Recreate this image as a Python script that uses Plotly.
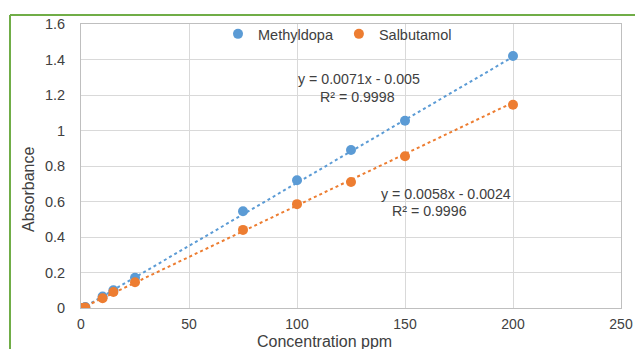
import plotly.graph_objects as go
import numpy as np

conc = [0, 2, 10, 15, 25, 75, 100, 125, 150, 200]
methyldopa = [0.0, 0.005, 0.065, 0.10, 0.17, 0.545, 0.72, 0.89, 1.055, 1.42]
salbutamol = [0.0, 0.003, 0.055, 0.09, 0.145, 0.44, 0.585, 0.71, 0.855, 1.145]
methyl_fit = (0.0071, -0.005)
salb_fit = (0.0058, -0.0024)
x_ticks = [0, 50, 100, 150, 200, 250]
y_ticks = [0, 0.2, 0.4, 0.6, 0.8, 1, 1.2, 1.4, 1.6]
y_tick_text = ["0", "0.2", "0.4", "0.6", "0.8", "1", "1.2", "1.4", "1.6"]

BLUE = "#5B9BD5"
ORANGE = "#ED7D31"
FONT = "Liberation Sans"
TXT = "#404040"

fig = go.Figure()
xl = np.array([min(conc), max(conc)], dtype=float)
fig.add_trace(go.Scatter(x=xl, y=methyl_fit[0] * xl + methyl_fit[1], mode="lines",
                         line=dict(color=BLUE, width=2, dash="dot"), showlegend=False, hoverinfo="skip"))
fig.add_trace(go.Scatter(x=xl, y=salb_fit[0] * xl + salb_fit[1], mode="lines",
                         line=dict(color=ORANGE, width=2, dash="dot"), showlegend=False, hoverinfo="skip"))
fig.add_trace(go.Scatter(x=conc, y=methyldopa, mode="markers", name="Methyldopa",
                         marker=dict(color=BLUE, size=10)))
fig.add_trace(go.Scatter(x=conc, y=salbutamol, mode="markers", name="Salbutamol",
                         marker=dict(color=ORANGE, size=10)))

fig.update_layout(
    width=635, height=349,
    margin=dict(l=81, r=14, t=24, b=41, autoexpand=False),
    paper_bgcolor="white", plot_bgcolor="white",
    font=dict(family=FONT, size=14, color=TXT),
    legend=dict(orientation="h", x=0.475, xanchor="center", y=0.965, yanchor="middle",
                bgcolor="rgba(0,0,0,0)", font=dict(size=14.5, color=TXT),
                itemwidth=30, tracegroupgap=0),
    xaxis=dict(range=[0, 250], tickvals=x_ticks, showgrid=True, gridcolor="#d9d9d9", gridwidth=1,
               zeroline=False, showline=True, linecolor="#bfbfbf", mirror=True, automargin=False,
               ticks="", ticklabelstandoff=3, tickfont=dict(size=14, color=TXT)),
    yaxis=dict(range=[0, 1.6], tickvals=y_ticks, ticktext=y_tick_text, showgrid=True,
               gridcolor="#d9d9d9", gridwidth=1, zeroline=False, showline=True, automargin=False,
               linecolor="#bfbfbf", mirror=True, ticks="", ticklabelstandoff=12,
               tickfont=dict(size=14.5, color=TXT)),
    showlegend=True,
)

annots = [
    dict(x=(359 - 81) / 540, y=(308 - 79) / 284, text="y = 0.0071x - 0.005"),
    dict(x=(357 - 81) / 540, y=(308 - 97) / 284, text="R² = 0.9998"),
    dict(x=(446 - 81) / 540, y=(308 - 194) / 284, text="y = 0.0058x - 0.0024"),
    dict(x=(429 - 81) / 540, y=(308 - 211) / 284, text="R² = 0.9996"),
]
for a in annots:
    fig.add_annotation(xref="paper", yref="paper", x=a["x"], y=a["y"], text=a["text"],
                       showarrow=False, xanchor="center", yanchor="middle",
                       font=dict(family=FONT, size=14.2, color=TXT))

fig.add_annotation(xref="paper", yref="paper", x=(324 - 81) / 540, y=(308 - 341) / 284,
                   text="Concentration ppm", showarrow=False, xanchor="center", yanchor="middle",
                   font=dict(family=FONT, size=16, color=TXT))
fig.add_annotation(xref="paper", yref="paper", x=(28 - 81) / 540, y=(308 - 190) / 284,
                   text="Absorbance", textangle=-90, showarrow=False, xanchor="center",
                   yanchor="middle", font=dict(family=FONT, size=16, color=TXT))

# green frame (top and left edges)
fig.add_shape(type="line", xref="paper", yref="paper", x0=(10 - 81) / 540, x1=(640 - 81) / 540,
              y0=(308 - 15) / 284, y1=(308 - 15) / 284, line=dict(color="#70AD47", width=2))
fig.add_shape(type="line", xref="paper", yref="paper", x0=(10 - 81) / 540, x1=(10 - 81) / 540,
              y0=(308 - 15) / 284, y1=(308 - 360) / 284, line=dict(color="#70AD47", width=2))

fig.write_html("out.html")
